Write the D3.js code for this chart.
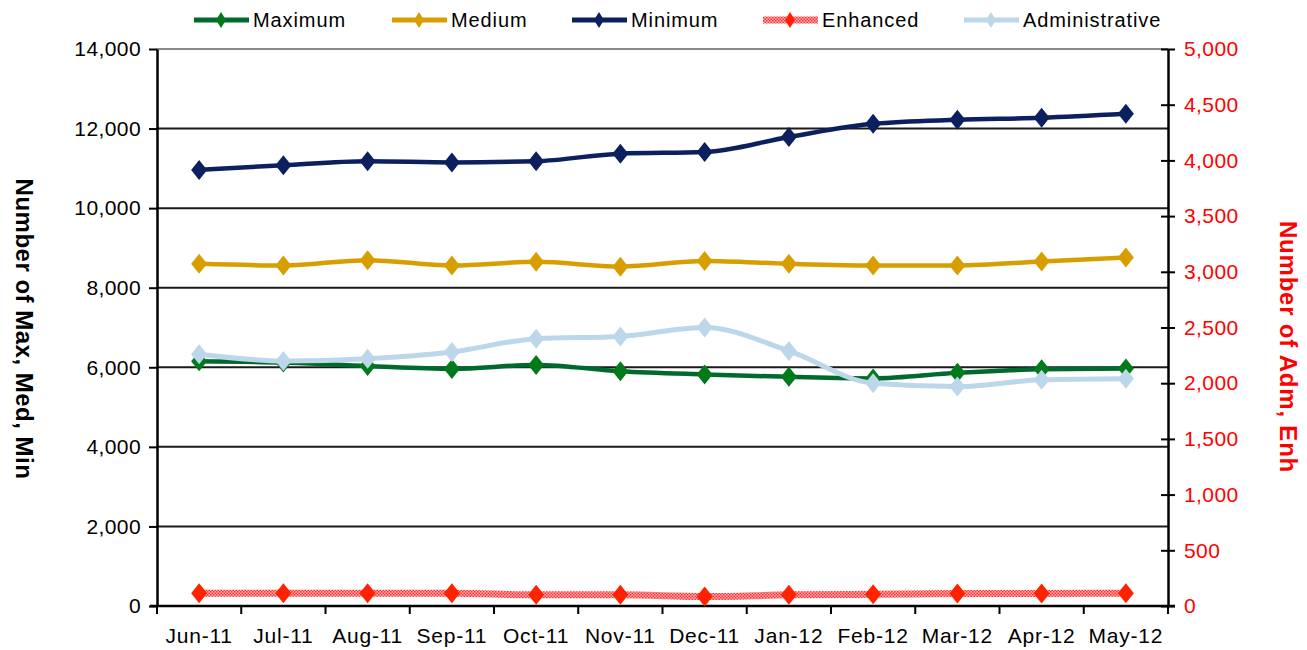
<!DOCTYPE html>
<html>
<head>
<meta charset="utf-8">
<script src="https://cdn.jsdelivr.net/npm/d3@7"></script>
<style>
  body { margin: 0; background: #fff; }
  svg { font-family: "Liberation Sans", Arial, sans-serif; }
</style>
</head>
<body>
<svg id="chart" width="1307" height="650"></svg>
<script>
// data
var months = ["Jun-11","Jul-11","Aug-11","Sep-11","Oct-11","Nov-11","Dec-11","Jan-12","Feb-12","Mar-12","Apr-12","May-12"];
var maximum = [6150, 6120, 6030, 5960, 6060, 5900, 5820, 5760, 5720, 5860, 5950, 5970];
var medium = [8600, 8560, 8690, 8560, 8650, 8530, 8670, 8600, 8560, 8560, 8660, 8760];
var minimum = [10960, 11080, 11180, 11150, 11180, 11370, 11410, 11790, 12120, 12220, 12270, 12370];
var enhanced = [115, 115, 115, 115, 100, 100, 85, 100, 105, 112, 112, 115];
var administrative = [2260, 2200, 2220, 2280, 2400, 2420, 2500, 2290, 2000, 1970, 2030, 2040];
var leftTicks = [0, 2000, 4000, 6000, 8000, 10000, 12000, 14000];
var rightTicks = [0, 500, 1000, 1500, 2000, 2500, 3000, 3500, 4000, 4500, 5000];

var svg = d3.select("#chart");
var pLeft = 157, pRight = 1168, pTop = 49, pBottom = 606;

var x = d3.scaleBand().domain(months).range([pLeft, pRight]);
var yL = d3.scaleLinear().domain([0, 14000]).range([pBottom, pTop]);
var yR = d3.scaleLinear().domain([0, 5000]).range([pBottom, pTop]);

// checkered pattern for the Enhanced line
var defs = svg.append("defs");
var pat = defs.append("pattern").attr("id", "checker").attr("patternUnits", "userSpaceOnUse")
    .attr("width", 3).attr("height", 3);
pat.append("rect").attr("width", 3).attr("height", 3).attr("fill", "#ffb3b3");
pat.append("rect").attr("width", 1.5).attr("height", 1.5).attr("fill", "#ff3030");
pat.append("rect").attr("x", 1.5).attr("y", 1.5).attr("width", 1.5).attr("height", 1.5).attr("fill", "#ff3030");

// gridlines
svg.append("g").selectAll("line")
    .data(leftTicks.filter(function(d){ return d > 0; }))
    .enter().append("line")
    .attr("x1", pLeft).attr("x2", pRight)
    .attr("y1", function(d){ return yL(d); }).attr("y2", function(d){ return yL(d); })
    .attr("stroke", function(d){ return d == 14000 ? "#888" : "#1a1a1a"; })
    .attr("stroke-width", 2);

// left axis
var axL = svg.append("g").attr("transform", "translate(" + pLeft + ",0)")
    .call(d3.axisLeft(yL).tickValues(leftTicks).tickSize(8).tickSizeOuter(0).tickPadding(8)
        .tickFormat(d3.format(",")));
axL.select(".domain").attr("stroke", "#000").attr("stroke-width", 2.5);
axL.selectAll(".tick line").attr("stroke", "#000").attr("stroke-width", 2);
axL.selectAll("text").attr("font-size", 21).attr("letter-spacing", 0.4).attr("fill", "#000");

// right axis
var axR = svg.append("g").attr("transform", "translate(" + pRight + ",0)")
    .call(d3.axisRight(yR).tickValues(rightTicks).tickSize(7).tickSizeOuter(0).tickPadding(9)
        .tickFormat(d3.format(",")));
axR.select(".domain").attr("stroke", "#000").attr("stroke-width", 2.5);
axR.selectAll(".tick line").attr("stroke", "#000").attr("stroke-width", 2).attr("x1", -7);
axR.selectAll("text").attr("font-size", 21).attr("letter-spacing", 0.4).attr("fill", "#ff0000");

// bottom axis
svg.append("line").attr("x1", pLeft - 7).attr("x2", pRight + 7).attr("y1", pBottom).attr("y2", pBottom)
    .attr("stroke", "#000").attr("stroke-width", 2.5);
var bounds = months.map(function(d){ return x(d); }).concat([pRight]);
svg.append("g").selectAll("line").data(bounds).enter().append("line")
    .attr("x1", function(d){ return d; }).attr("x2", function(d){ return d; })
    .attr("y1", pBottom).attr("y2", pBottom + 8)
    .attr("stroke", "#000").attr("stroke-width", 2);
svg.append("g").selectAll("text").data(months).enter().append("text")
    .text(function(d){ return d; })
    .attr("x", function(d){ return x(d) + x.bandwidth() / 2; })
    .attr("y", 643)
    .attr("text-anchor", "middle").attr("font-size", 21).attr("letter-spacing", 0.8).attr("fill", "#000");

// axis titles
svg.append("text").text("Number of Max, Med, Min")
    .attr("transform", "translate(16,329) rotate(90)")
    .attr("text-anchor", "middle").attr("font-size", 24).attr("letter-spacing", 0.5)
    .attr("font-weight", "bold").attr("fill", "#000");
svg.append("text").text("Number of Adm, Enh")
    .attr("transform", "translate(1280,347) rotate(90)")
    .attr("text-anchor", "middle").attr("font-size", 24).attr("letter-spacing", 0.8)
    .attr("font-weight", "bold").attr("fill", "#ff0000");

function diamond(w, h) {
    return "M0," + (-h) + "L" + w + ",0L0," + h + "L" + (-w) + ",0Z";
}

var series = [
    {name: "Maximum", values: maximum, scale: yL, line: "#006a2e", mark: "#007a1a", width: 4.5},
    {name: "Medium", values: medium, scale: yL, line: "#d89e00", mark: "#d89e00", width: 4.5},
    {name: "Minimum", values: minimum, scale: yL, line: "#0c1f5e", mark: "#0c1f5e", width: 4.5},
    {name: "Enhanced", values: enhanced, scale: yR, line: "url(#checker)", mark: "#ff2200", width: 7},
    {name: "Administrative", values: administrative, scale: yR, line: "#bdd7ea", mark: "#bdd7ea", width: 5}
];

series.forEach(function(s) {
    var line = d3.line()
        .x(function(d, i){ return x(months[i]) + x.bandwidth() / 2; })
        .y(function(d){ return s.scale(d); })
        .curve(d3.curveMonotoneX);
    svg.append("path").datum(s.values)
        .attr("d", line)
        .attr("fill", "none")
        .attr("stroke", s.line)
        .attr("stroke-width", s.width);
    svg.append("g").selectAll("path").data(s.values).enter().append("path")
        .attr("d", diamond(8, 10))
        .attr("transform", function(d, i){ return "translate(" + (x(months[i]) + x.bandwidth() / 2) + "," + s.scale(d) + ")"; })
        .attr("fill", s.mark);
});

// legend
var legendX = [194, 392, 572, 763, 964];
var lg = svg.append("g").selectAll("g").data(series).enter().append("g")
    .attr("transform", function(d, i){ return "translate(" + legendX[i] + ",20)"; });
lg.append("line").attr("x1", 0).attr("x2", 55).attr("y1", 0).attr("y2", 0)
    .attr("stroke", function(d){ return d.line; })
    .attr("stroke-width", function(d){ return d.name == "Enhanced" ? 7 : 5; });
lg.append("path").attr("d", diamond(5, 8)).attr("transform", "translate(27,0)")
    .attr("fill", function(d){ return d.mark; });
lg.append("text").text(function(d){ return d.name; })
    .attr("x", 59).attr("y", 7).attr("font-size", 20).attr("letter-spacing", 0.9).attr("fill", "#000");
</script>
</body>
</html>
